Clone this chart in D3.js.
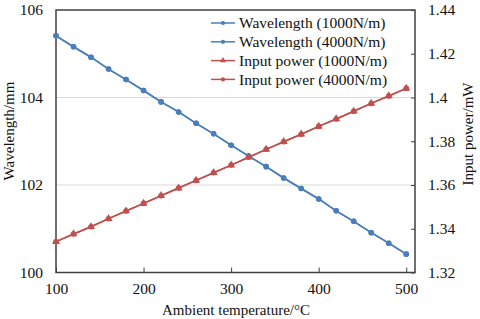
<!DOCTYPE html>
<html lang="en">
<head>
  <meta charset="utf-8" />
  <title>Wavelength and input power vs temperature</title>
  <script type="text/javascript" src="https://cdn.jsdelivr.net/npm/d3@7"></script>
  <style type="text/css">
body { margin: 0; background: white; }
svg text { font-family: "Liberation Serif", "Times New Roman", serif; fill: #111; }
.axis path, .axis line { stroke: #404040; }
  </style>
</head>
<body>

<script type="text/javascript">

// temperatures, deg C
var temps = [100, 120, 140, 160, 180, 200, 220, 240, 260, 280, 300,
             320, 340, 360, 380, 400, 420, 440, 460, 480, 500];

// wavelength in mm (the two spring constants give the same curve)
var wave1000 = [105.41, 105.16, 104.92, 104.65, 104.41, 104.16, 103.90, 103.67, 103.41, 103.17, 102.91,
                102.66, 102.42, 102.16, 101.92, 101.68, 101.41, 101.17, 100.91, 100.67, 100.42];
var wave4000 = [105.41, 105.16, 104.92, 104.65, 104.41, 104.16, 103.90, 103.67, 103.41, 103.17, 102.91,
                102.66, 102.42, 102.16, 101.92, 101.68, 101.41, 101.17, 100.91, 100.67, 100.42];

// input power in mW
var power1000 = [1.3341, 1.3376, 1.3409, 1.3446, 1.3481, 1.3516, 1.3551, 1.3586, 1.3621, 1.3656, 1.3691,
                 1.3727, 1.3763, 1.3798, 1.3832, 1.3868, 1.3902, 1.3937, 1.3973, 1.4007, 1.4042];
var power4000 = [1.3341, 1.3376, 1.3409, 1.3446, 1.3481, 1.3516, 1.3551, 1.3586, 1.3621, 1.3656, 1.3691,
                 1.3727, 1.3763, 1.3798, 1.3832, 1.3868, 1.3902, 1.3937, 1.3973, 1.4007, 1.4042];

var xTicks = [100, 200, 300, 400, 500];
var leftTicks = [100, 102, 104, 106];
var rightTicks = [1.32, 1.34, 1.36, 1.38, 1.4, 1.42, 1.44];

var seriesNames = ["Wavelength (1000N/m)", "Wavelength (4000N/m)",
                   "Input power (1000N/m)", "Input power (4000N/m)"];

var w = 480;
var h = 319;
var pad = { left: 56, right: 65, top: 10, bottom: 46.5 };
var blue = "#4a7ebb";
var red = "#c0504d";

var svg = d3.select("body")
    .append("svg")
    .attr("width", w)
    .attr("height", h);

var xScale = d3.scaleLinear()
    .domain([100, 510])
    .range([pad.left, w - pad.right]);
var yLeft = d3.scaleLinear()
    .domain([100, 106])
    .range([h - pad.bottom, pad.top]);
var yRight = d3.scaleLinear()
    .domain([1.32, 1.44])
    .range([h - pad.bottom, pad.top]);

// gridlines
svg.append("g")
    .selectAll("line")
    .data(leftTicks.slice(1, -1))
    .enter()
    .append("line")
    .attr("x1", pad.left)
    .attr("x2", w - pad.right)
    .attr("y1", function(d) { return yLeft(d); })
    .attr("y2", function(d) { return yLeft(d); })
    .attr("stroke", "#d9d9d9")
    .attr("stroke-width", 1);

// frame
svg.append("rect")
    .attr("x", pad.left)
    .attr("y", pad.top)
    .attr("width", w - pad.right - pad.left)
    .attr("height", h - pad.bottom - pad.top)
    .attr("fill", "none")
    .attr("stroke", "#404040")
    .attr("stroke-width", 1.5);

// axes
svg.append("g")
    .attr("class", "axis")
    .attr("transform", "translate(0," + (h - pad.bottom) + ")")
    .call(d3.axisBottom(xScale).tickValues(xTicks).tickSizeInner(-5).tickSizeOuter(0).tickPadding(10)
      .tickFormat(d3.format("d")));
svg.append("g")
    .attr("class", "axis")
    .attr("transform", "translate(" + pad.left + ",0)")
    .call(d3.axisLeft(yLeft).tickValues(leftTicks).tickSize(0).tickPadding(13)
      .tickFormat(d3.format("d")));
svg.append("g")
    .attr("class", "axis")
    .attr("transform", "translate(" + (w - pad.right) + ",0)")
    .call(d3.axisRight(yRight).tickValues(rightTicks).tickSizeInner(-4).tickSizeOuter(0).tickPadding(13)
      .tickFormat(function(d) { return String(+d.toFixed(2)); }));

svg.selectAll(".axis path").remove();
svg.selectAll(".axis text")
    .attr("font-size", 15.5)
    .attr("font-family", "Liberation Serif")
    .attr("fill", "#111");

// axis titles
svg.append("text")
    .attr("x", 236)
    .attr("y", 315)
    .attr("text-anchor", "middle")
    .attr("font-size", 15)
    .text("Ambient temperature/\u00b0C");
svg.append("text")
    .attr("transform", "translate(14,131) rotate(-90)")
    .attr("text-anchor", "middle")
    .attr("font-size", 15)
    .text("Wavelength/mm");
svg.append("text")
    .attr("transform", "translate(473,134) rotate(-90)")
    .attr("text-anchor", "middle")
    .attr("font-size", 15)
    .text("Input power/mW");

// series
var series = [
  { vals: wave1000, y: yLeft, color: blue, marker: "circle" },
  { vals: wave4000, y: yLeft, color: blue, marker: "circle" },
  { vals: power1000, y: yRight, color: red, marker: "triangle" },
  { vals: power4000, y: yRight, color: red, marker: "circle" }
];

function symbolFor(s) {
  return s.marker === "triangle"
    ? d3.symbol().type(d3.symbolTriangle).size(28)
    : d3.symbol().type(d3.symbolCircle).size(24);
}

series.forEach(function(s) {
  var line = d3.line()
      .x(function(d, i) { return xScale(temps[i]); })
      .y(function(d) { return s.y(d); });
  svg.append("path")
      .datum(s.vals)
      .attr("d", line)
      .attr("fill", "none")
      .attr("stroke", s.color)
      .attr("stroke-width", 1.5);
  svg.append("g")
      .selectAll("path")
      .data(s.vals)
      .enter()
      .append("path")
      .attr("d", symbolFor(s))
      .attr("transform", function(d, i) {
        return "translate(" + xScale(temps[i]) + "," + s.y(d) + ")";
      })
      .attr("fill", s.color);
});

// legend
var legend = svg.append("g")
    .attr("transform", "translate(211,23)");
var rows = legend.selectAll("g")
    .data(series)
    .enter()
    .append("g")
    .attr("transform", function(d, i) { return "translate(0," + (i * 18.8) + ")"; });
rows.append("line")
    .attr("x1", 0)
    .attr("x2", 24)
    .attr("stroke", function(d) { return d.color; })
    .attr("stroke-width", 1.5);
rows.append("path")
    .attr("d", function(d) {
      return d.marker === "triangle"
        ? d3.symbol().type(d3.symbolTriangle).size(16)()
        : d3.symbol().type(d3.symbolCircle).size(14)();
    })
    .attr("transform", "translate(12,0)")
    .attr("fill", function(d) { return d.color; });
rows.append("text")
    .attr("x", 28)
    .attr("dy", "0.35em")
    .attr("font-size", 15.5)
    .text(function(d, i) { return seriesNames[i]; });

</script>

</body>
</html>
